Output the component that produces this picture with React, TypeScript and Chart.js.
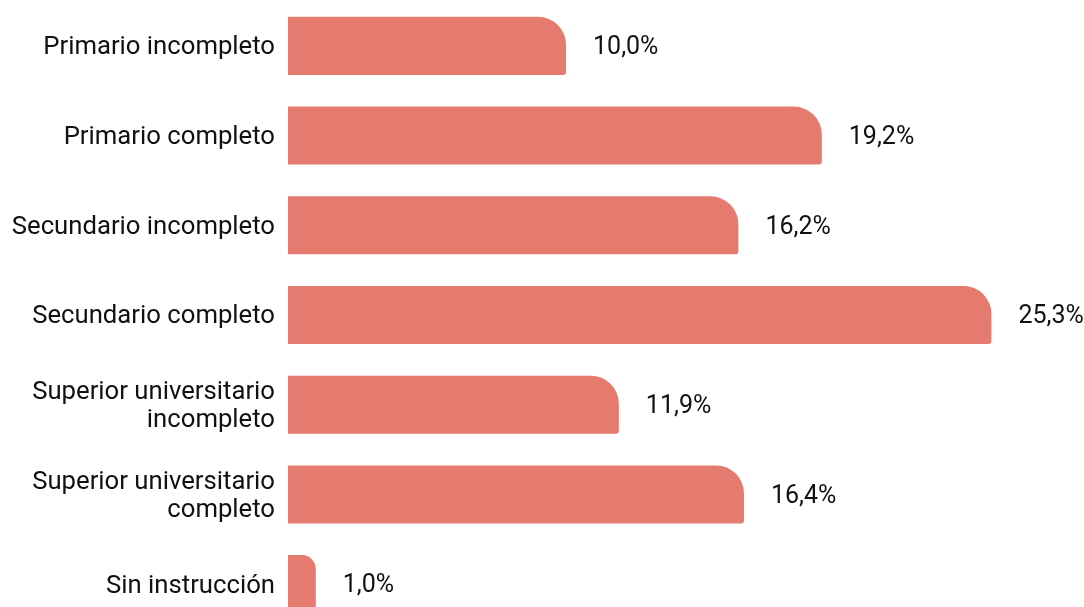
import React, { useEffect, useRef } from "react";
import { Chart, registerables } from "chart.js";

Chart.register(...registerables);

const categories: (string | string[])[] = [
  "Primario incompleto",
  "Primario completo",
  "Secundario incompleto",
  "Secundario completo",
  ["Superior universitario", "incompleto"],
  ["Superior universitario", "completo"],
  "Sin instrucción",
];
const values: number[] = [10.0, 19.2, 16.2, 25.3, 11.9, 16.4, 1.0];
const valueLabels: string[] = ["10,0%", "19,2%", "16,2%", "25,3%", "11,9%", "16,4%", "1,0%"];

const FONT = "Roboto, 'Noto Sans', sans-serif";

const valueLabelPlugin = {
  id: "valueLabels",
  afterDatasetsDraw(chart: any) {
    const ctx = chart.ctx;
    const meta = chart.getDatasetMeta(0);
    ctx.save();
    ctx.font = `25px ${FONT}`;
    ctx.fillStyle = "#111111";
    ctx.textAlign = "left";
    ctx.textBaseline = "middle";
    meta.data.forEach((el: any, i: number) => {
      ctx.fillText(valueLabels[i], el.x + 27, el.y + 2);
    });
    ctx.restore();
  },
};

export default function App() {
  const ref = useRef<HTMLCanvasElement | null>(null);
  useEffect(() => {
    if (!ref.current) return;
    const chart = new Chart(ref.current, {
      type: "bar",
      data: {
        labels: categories,
        datasets: [
          {
            data: values,
            backgroundColor: "#E47B6E",
            borderRadius: { topRight: 28, bottomRight: 3, topLeft: 0, bottomLeft: 0 },
            borderSkipped: false,
            barPercentage: 0.647,
            categoryPercentage: 1,
          },
        ],
      },
      options: {
        indexAxis: "y",
        animation: false,
        responsive: false,
        maintainAspectRatio: false,
        layout: { padding: { top: 1, bottom: 1, left: 0, right: 0 } },
        plugins: { legend: { display: false }, tooltip: { enabled: false } },
        scales: {
          x: {
            display: false,
            min: 0,
            max: 28.63,
          },
          y: {
            grid: { display: false, drawTicks: false },
            border: { display: false },
            ticks: {
              color: "#111111",
              padding: 13,
              labelOffset: 2,
              font: { family: FONT, size: 25.7, lineHeight: 1.07 },
            },
            afterFit(scale: any) {
              scale.width = 288;
              scale.paddingTop = 0;
              scale.paddingBottom = 0;
            },
          },
        },
      },
      plugins: [valueLabelPlugin],
    });
    return () => chart.destroy();
  }, []);
  return (
    <div style={{ position: "fixed", top: 0, left: 0, width: 1084, height: 630, background: "#fff" }}>
      <canvas ref={ref} width={1084} height={630} style={{ display: "block" }} />
    </div>
  );
}
